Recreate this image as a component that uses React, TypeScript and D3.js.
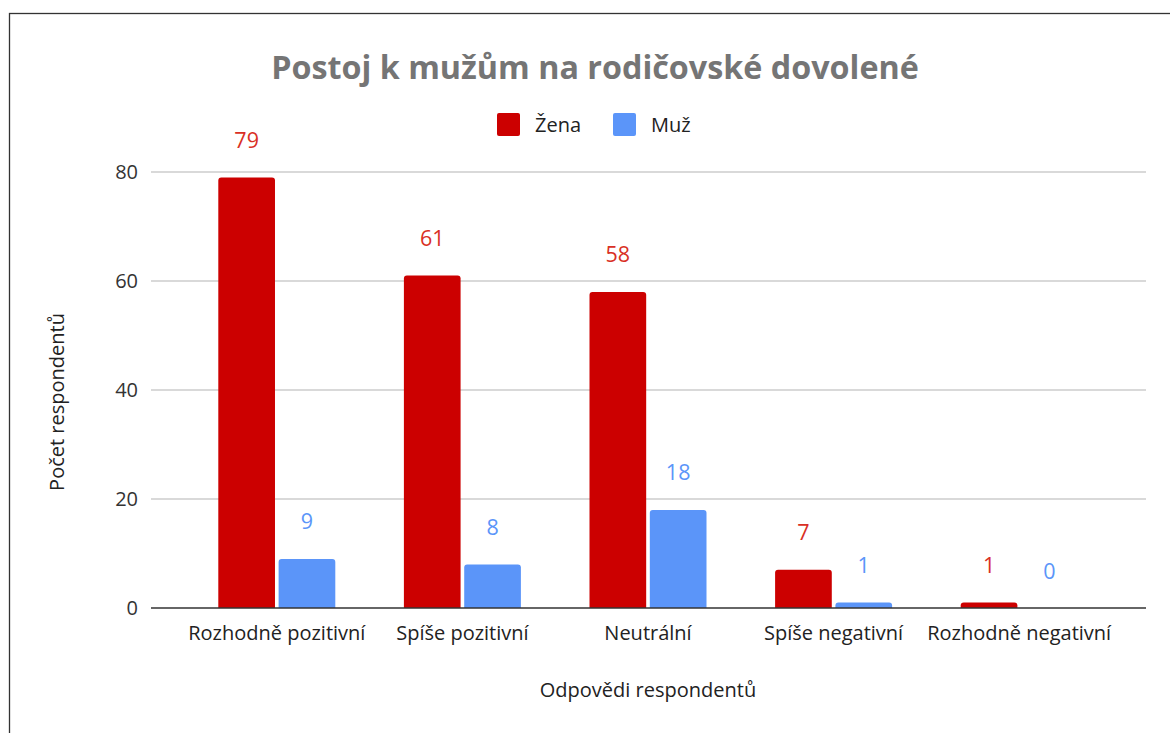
import React, { useEffect, useRef } from 'react'
import * as d3 from 'd3'

const categories = [
  'Rozhodně pozitivní',
  'Spíše pozitivní',
  'Neutrální',
  'Spíše negativní',
  'Rozhodně negativní',
]
const seriesNames = ['Žena', 'Muž']
const zenaValues = [79, 61, 58, 7, 1]
const muzValues = [9, 8, 18, 1, 0]
const yTicks = [0, 20, 40, 60, 80]
const colors = ['#cc0000', '#5b95f9']
const labelColors = ['#d93025', '#5b95f9']

const W = 1170
const H = 733
const FONT = '"Open Sans", "Noto Sans", sans-serif'

export default function App() {
  const svgRef = useRef<SVGSVGElement>(null)

  useEffect(() => {
    if (!svgRef.current) return
    const svg = d3.select(svgRef.current)
    svg.selectAll('*').remove()

    // chart frame
    svg
      .append('rect')
      .attr('x', 9.5)
      .attr('y', 13.5)
      .attr('width', W + 20)
      .attr('height', H + 20)
      .attr('fill', '#fff')
      .attr('stroke', '#333')
      .attr('stroke-width', 1.3)

    const x0 = d3.scaleBand().domain(categories).range([184, 1112]).paddingInner(0).paddingOuter(0)
    const x1 = d3.scaleBand().domain(seriesNames).range([0, 117]).paddingInner(0.06)
    const y = d3.scaleLinear().domain([0, 80]).range([608, 172])
    const groupOffset = (x0.bandwidth() - 117) / 2

    // gridlines
    svg
      .append('g')
      .selectAll('line')
      .data(yTicks.filter((t) => t !== 0))
      .join('line')
      .attr('x1', 151)
      .attr('x2', 1146)
      .attr('y1', (d) => y(d))
      .attr('y2', (d) => y(d))
      .attr('stroke', '#cccccc')
      .attr('stroke-width', 1.5)

    // y tick labels
    svg
      .append('g')
      .selectAll('text')
      .data(yTicks)
      .join('text')
      .attr('x', 138)
      .attr('y', (d) => y(d))
      .attr('dy', '0.35em')
      .attr('text-anchor', 'end')
      .attr('font-family', FONT)
      .attr('font-size', 20)
      .attr('fill', '#333')
      .text((d) => d)

    const rows = categories.map((c, i) => ({ c, vals: [zenaValues[i], muzValues[i]] }))

    const groups = svg
      .append('g')
      .selectAll('g')
      .data(rows)
      .join('g')
      .attr('transform', (d) => `translate(${(x0(d.c) || 0) + groupOffset},0)`)

    const r = 3
    groups
      .selectAll('path')
      .data((d) => d.vals.map((v, j) => ({ v, j })))
      .join('path')
      .attr('d', (d) => {
        const bx = x1(seriesNames[d.j]) || 0
        const bw = x1.bandwidth()
        const top = y(d.v)
        const bottom = y(0)
        if (bottom - top < 0.5) return ''
        const rr = Math.min(r, bottom - top)
        return `M${bx},${bottom}V${top + rr}Q${bx},${top} ${bx + rr},${top}H${bx + bw - rr}Q${bx + bw},${top} ${bx + bw},${top + rr}V${bottom}Z`
      })
      .attr('fill', (d) => colors[d.j])

    groups
      .selectAll('text')
      .data((d) => d.vals.map((v, j) => ({ v, j })))
      .join('text')
      .attr('x', (d) => (x1(seriesNames[d.j]) || 0) + x1.bandwidth() / 2)
      .attr('y', (d) => y(d.v) - 37)
      .attr('dy', '0.35em')
      .attr('text-anchor', 'middle')
      .attr('font-family', FONT)
      .attr('font-size', 21.5)
      .attr('fill', (d) => labelColors[d.j])
      .text((d) => d.v)

    // baseline
    svg
      .append('line')
      .attr('x1', 151)
      .attr('x2', 1146)
      .attr('y1', y(0))
      .attr('y2', y(0))
      .attr('stroke', '#333')
      .attr('stroke-width', 1.5)

    // x tick labels
    svg
      .append('g')
      .selectAll('text')
      .data(categories)
      .join('text')
      .attr('x', (d) => (x0(d) || 0) + x0.bandwidth() / 2)
      .attr('y', 633)
      .attr('dy', '0.35em')
      .attr('text-anchor', 'middle')
      .attr('font-family', FONT)
      .attr('font-size', 20)
      .attr('fill', '#222')
      .text((d) => d)

    // title
    svg
      .append('text')
      .attr('x', 595)
      .attr('y', 68)
      .attr('dy', '0.35em')
      .attr('text-anchor', 'middle')
      .attr('font-family', FONT)
      .attr('font-weight', 'bold')
      .attr('font-size', 32.3)
      .attr('fill', '#757575')
      .text('Postoj k mužům na rodičovské dovolené')

    // legend
    const legendX = [497, 613]
    const legend = svg
      .append('g')
      .selectAll('g')
      .data(seriesNames)
      .join('g')
      .attr('transform', (_, i) => `translate(${legendX[i]},113)`)
    legend
      .append('rect')
      .attr('width', 23)
      .attr('height', 23)
      .attr('rx', 2)
      .attr('fill', (_, i) => colors[i])
    legend
      .append('text')
      .attr('x', 38)
      .attr('y', 11.5)
      .attr('dy', '0.35em')
      .attr('font-family', FONT)
      .attr('font-size', 20)
      .attr('fill', '#222')
      .text((d) => d)

    // axis titles
    svg
      .append('text')
      .attr('x', 648)
      .attr('y', 690)
      .attr('dy', '0.35em')
      .attr('text-anchor', 'middle')
      .attr('font-family', FONT)
      .attr('font-size', 20)
      .attr('fill', '#222')
      .text('Odpovědi respondentů')

    svg
      .append('text')
      .attr('transform', 'translate(57,402) rotate(-90)')
      .attr('dy', '0.35em')
      .attr('text-anchor', 'middle')
      .attr('font-family', FONT)
      .attr('font-size', 20)
      .attr('fill', '#222')
      .text('Počet respondentů')
  }, [])

  return (
    <svg
      ref={svgRef}
      width={W}
      height={H}
      style={{ position: 'fixed', left: 0, top: 0, background: '#fff' }}
    ></svg>
  )
}
